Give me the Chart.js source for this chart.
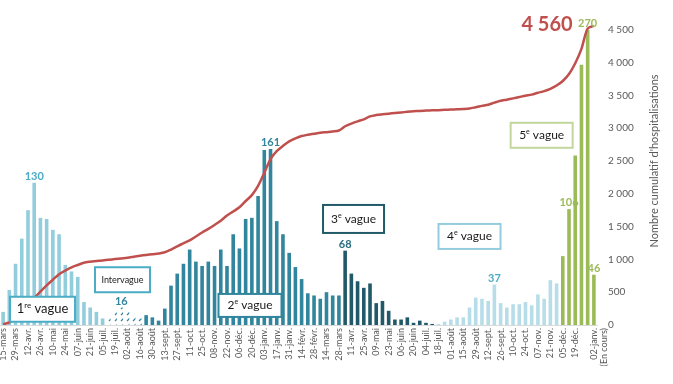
<!DOCTYPE html>
<html>
<head>
<meta charset="utf-8">
<script src="https://cdn.jsdelivr.net/npm/chart.js@4"></script>
<style>
  html, body { margin: 0; padding: 0; background: #fff; overflow: hidden; }
  #wrap { position: absolute; left: 0; top: -20px; width: 673px; height: 404px; }
</style>
</head>
<body>
<div id="wrap"><canvas id="chart" width="673" height="404"></canvas></div>
<script>
// Weekly labels (week start), last one is the current week
const weeks = [
  '15-mars','22-mars','29-mars','05-avr.','12-avr.','19-avr.','26-avr.','03-mai','10-mai','17-mai',
  '24-mai','31-mai','07-juin','14-juin','21-juin','28-juin','05-juil.','12-juil.','19-juil.','26-juil.',
  '02-août','09-août','16-août','23-août','30-août','06-sept.','13-sept.','20-sept.','27-sept.','04-oct.',
  '11-oct.','18-oct.','25-oct.','01-nov.','08-nov.','15-nov.','22-nov.','29-nov.','06-déc.','13-déc.',
  '20-déc.','27-déc.','03-janv.','10-janv.','17-janv.','24-janv.','31-janv.','07-févr.','14-févr.','21-févr.',
  '28-févr.','07-mars','14-mars','21-mars','28-mars','04-avr.','11-avr.','18-avr.','25-avr.','02-mai',
  '09-mai','16-mai','23-mai','30-mai','06-juin','13-juin','20-juin','27-juin','04-juil.','11-juil.',
  '18-juil.','25-juil.','01-août','08-août','15-août','22-août','29-août','05-sept.','12-sept.','19-sept.',
  '26-sept.','03-oct.','10-oct.','17-oct.','24-oct.','31-oct.','07-nov.','14-nov.','21-nov.','28-nov.',
  '05-déc.','12-déc.','19-déc.','26-déc.','02-janv.','(En cours)'
];

// Weekly hospitalisations (bars, hidden left axis)
const weekly = [
  12, 32, 56, 79, 105, 130, 98, 97, 87, 83,
  55, 49, 44, 21, 16, 12, 6, 6, 12, 16,
  12, 8, 6, 9, 7, 4, 15, 36, 47, 56,
  69, 58, 54, 58, 54, 69, 54, 83, 70, 97,
  98, 118, 160, 161, 95, 83, 66, 53, 42, 29,
  27, 24, 30, 27, 27, 68, 47, 40, 34, 38,
  20, 22, 13, 5, 5, 7, 2, 4, 2, 1,
  1, 3, 5, 7, 7, 16, 25, 24, 22, 37,
  20, 16, 19, 19, 21, 18, 28, 24, 41, 38,
  63, 106, 155, 238, 270, 46
];

// Cumulative hospitalisations (line, right axis)
const cumulative = [
  10, 40, 95, 175, 280, 410, 510, 605, 690, 775,
  830, 880, 915, 950, 965, 975, 985, 995, 1005, 1015,
  1025, 1040, 1055, 1068, 1080, 1090, 1108, 1150, 1200, 1245,
  1290, 1350, 1410, 1465, 1525, 1590, 1670, 1730, 1795, 1890,
  1980, 2120, 2320, 2530, 2650, 2730, 2800, 2845, 2880, 2900,
  2915, 2930, 2940, 2950, 2965, 3030, 3070, 3105, 3135, 3180,
  3200, 3212, 3222, 3232, 3240, 3250, 3258, 3264, 3268, 3272,
  3275, 3280, 3284, 3288, 3292, 3300, 3320, 3340, 3358, 3390,
  3418, 3435, 3455, 3475, 3495, 3512, 3540, 3565, 3600, 3650,
  3720, 3825, 3990, 4210, 4520, 4560
];

const rightTicks = [0, 500, 1000, 1500, 2000, 2500, 3000, 3500, 4000, 4500, 5000];

// Waves: first / last week index
const waves = [
  { key: 'w1', from: 0, to: 16 },
  { key: 'inter', from: 17, to: 22 },
  { key: 'w2', from: 23, to: 54 },
  { key: 'w3', from: 55, to: 69 },
  { key: 'w4', from: 70, to: 89 },
  { key: 'w5', from: 90, to: 95 }
];

// Weeks carrying a value label
const peaks = [5, 19, 43, 55, 79, 91, 94, 95];

const totalLabel = '4 560';

// Styles
const barColors = { w1: '#92CDDC', w2: '#31859C', w3: '#215968', w4: '#B7DEE8', w5: '#9BBB59' };
const labelColors = { w1: '#4BACC6', inter: '#31859C', w2: '#31859C', w3: '#2B6E80', w4: '#4BACC6', w5: '#9BBB59' };

// Wave boxes: centred on a week index and a bar value
const boxes = [
  { sup: ['1', 're', ' vague'], at: 6.34, val: 14.4, w: 65, h: 25, color: '#4BACC6', size: 13 },
  { text: 'Intervague', at: 19.2, val: 41.4, w: 55, h: 25, color: '#4BACC6', size: 9 },
  { sup: ['2', 'e', ' vague'], at: 39.7, val: 17.9, w: 63, h: 23, color: '#31859C', size: 12 },
  { sup: ['3', 'e', ' vague'], at: 56.35, val: 97, w: 61, h: 28, color: '#215968', size: 12 },
  { sup: ['4', 'e', ' vague'], at: 75.0, val: 81, w: 62, h: 25, color: '#93CDDD', size: 12 },
  { sup: ['5', 'e', ' vague'], at: 86.6, val: 173.5, w: 62, h: 25, color: '#C3D69B', size: 12 }
];

function waveOf(i) {
  return waves.find(w => i >= w.from && i <= w.to).key;
}

// Dashed diagonal pattern for the inter-wave weeks
function hatch() {
  const c = document.createElement('canvas');
  c.width = 6; c.height = 6;
  const g = c.getContext('2d');
  g.strokeStyle = '#31859C';
  g.lineWidth = 1.2;
  g.beginPath();
  g.moveTo(1, 5); g.lineTo(4, 2);
  g.stroke();
  return g.createPattern(c, 'repeat');
}

const pattern = hatch();
const colors = weekly.map((v, i) => {
  const k = waveOf(i);
  return k === 'inter' ? pattern : barColors[k];
});

// Every second week is labelled; the last two labels share the current week's slot
function tickLabel(v, i) {
  const last = weeks.length - 1;
  if (i === last) return [weeks[last - 1], weeks[last]];
  if (i === last - 1) return '';
  return i % 2 === 0 ? weeks[i] : '';
}

function drawSup(ctx, parts, cx, cy, size) {
  const big = size + 'px Lato';
  const small = Math.round(size * 0.62) + 'px Lato';
  ctx.font = big; const w0 = ctx.measureText(parts[0]).width;
  const w2 = ctx.measureText(parts[2]).width;
  ctx.font = small; const w1 = ctx.measureText(parts[1]).width;
  let x = cx - (w0 + w1 + w2) / 2;
  ctx.textAlign = 'left';
  ctx.textBaseline = 'middle';
  ctx.font = big; ctx.fillText(parts[0], x, cy); x += w0;
  ctx.font = small; ctx.fillText(parts[1], x, cy - size * 0.3); x += w1;
  ctx.font = big; ctx.fillText(parts[2], x, cy);
}

const overlay = {
  id: 'overlay',
  afterDatasetsDraw(chart) {
    const { ctx, chartArea } = chart;
    const x = chart.scales.x, y = chart.scales.y, y2 = chart.scales.y2;
    ctx.save();

    // value labels above some bars
    ctx.font = 'bold 11px Lato';
    ctx.textAlign = 'center';
    ctx.textBaseline = 'bottom';
    peaks.forEach(i => {
      ctx.fillStyle = labelColors[waveOf(i)];
      ctx.fillText(String(weekly[i]), x.getPixelForValue(i), y.getPixelForValue(weekly[i]) - 1);
    });

    // total
    const last = cumulative.length - 1;
    ctx.font = 'bold 20px Lato';
    ctx.fillStyle = '#C0504D';
    ctx.textAlign = 'right';
    ctx.textBaseline = 'middle';
    ctx.fillText(totalLabel, x.getPixelForValue(last - 1) - 15, y2.getPixelForValue(cumulative[last]) - 1);

    // wave boxes
    boxes.forEach(b => {
      const cx = x.getPixelForValue(b.at), cy = y.getPixelForValue(b.val);
      ctx.fillStyle = '#fff';
      ctx.fillRect(cx - b.w / 2, cy - b.h / 2, b.w, b.h);
      ctx.strokeStyle = b.color;
      ctx.lineWidth = 2;
      ctx.strokeRect(cx - b.w / 2, cy - b.h / 2, b.w, b.h);
      ctx.fillStyle = '#1a1a1a';
      if (b.sup) {
        drawSup(ctx, b.sup, cx, cy, b.size);
      } else {
        ctx.font = b.size + 'px Lato';
        ctx.textAlign = 'center';
        ctx.textBaseline = 'middle';
        ctx.fillText(b.text, cx, cy);
      }
    });

    // right axis title, read bottom to top
    ctx.translate(654, (chartArea.top + chartArea.bottom) / 2);
    ctx.rotate(-Math.PI / 2);
    ctx.font = '11px Lato';
    ctx.fillStyle = '#595959';
    ctx.textAlign = 'center';
    ctx.textBaseline = 'middle';
    ctx.fillText("Nombre cumulatif d'hospitalisations", 0, 0);
    ctx.restore();
  }
};

Chart.defaults.font.family = 'Lato';
Chart.defaults.color = '#595959';

new Chart(document.getElementById('chart'), {
  type: 'bar',
  data: {
    labels: weeks,
    datasets: [
      {
        type: 'line',
        data: cumulative,
        yAxisID: 'y2',
        borderColor: '#C0504D',
        borderWidth: 2.5,
        pointRadius: 0,
        tension: 0.3,
        order: 0
      },
      {
        data: weekly,
        yAxisID: 'y',
        backgroundColor: colors,
        barPercentage: 0.58,
        categoryPercentage: 1,
        order: 1
      }
    ]
  },
  plugins: [overlay],
  options: {
    responsive: false,
    animation: false,
    devicePixelRatio: 1,
    layout: { padding: { top: 15, left: 0, right: 0, bottom: 0 } },
    plugins: { legend: { display: false }, tooltip: { enabled: false } },
    scales: {
      x: {
        grid: { display: false, drawTicks: false },
        border: { color: '#D9D9D9' },
        ticks: {
          autoSkip: false,
          minRotation: 90,
          maxRotation: 90,
          padding: 3,
          font: { size: 9, lineHeight: 1.1 },
          color: '#595959',
          callback: tickLabel
        },
        afterFit: s => { s.height = 59; }
      },
      y: { display: false, min: 0, max: 300 },
      y2: {
        position: 'right',
        min: 0,
        max: 5000,
        grid: { display: false, drawTicks: false },
        border: { display: false },
        afterBuildTicks: s => { s.ticks = rightTicks.map(v => ({ value: v })); },
        ticks: {
          padding: 11,
          font: { size: 10 },
          color: '#595959',
          callback: v => String(v).replace(/\B(?=(\d{3})+(?!\d))/g, ' ')
        },
        afterFit: s => { s.width = 76; }
      }
    }
  }
});
</script>
</body>
</html>
